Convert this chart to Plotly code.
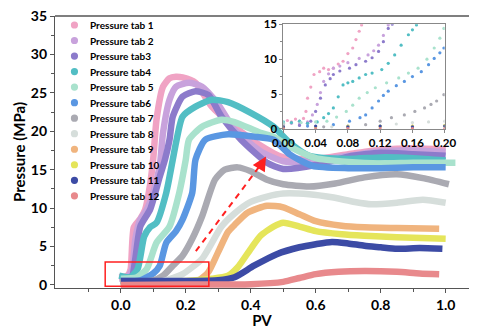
import plotly.graph_objects as go

names = ["Pressure tab 1", "Pressure tab 2", "Pressure tab3", "Pressure tab4", "Pressure tab 5",
         "Pressure tab6", "Pressure tab 7", "Pressure tab 8", "Pressure tab 9", "Pressure tab 10",
         "Pressure tab 11", "Pressure tab 12"]
colors = ["#F0A3C4", "#C8A2DC", "#8C7BCB", "#52BEC4", "#A9E2CD", "#5A97E2",
          "#AAAAB2", "#D6DEDB", "#F0B47E", "#E5E55A", "#3C4BA5", "#E8898C"]

# ---- main curves (PV, MPa) ----
x1 = [-0.005, 0.02, 0.03, 0.04, 0.06, 0.075, 0.09, 0.10, 0.11, 0.13, 0.15, 0.17, 0.19, 0.23, 0.28, 0.35, 0.42, 0.50, 0.60, 0.70, 0.80, 0.90, 1.00]
y1 = [1.0, 1.2, 2.0, 7.5, 8.6, 9.8, 13.0, 16.5, 21.5, 25.8, 26.9, 27.1, 27.0, 26.3, 23.2, 20.6, 18.4, 16.6, 16.4, 17.0, 17.6, 17.8, 17.6]
x2 = [-0.005, 0.02, 0.035, 0.045, 0.06, 0.08, 0.10, 0.12, 0.13, 0.15, 0.17, 0.21, 0.25, 0.30, 0.35, 0.43, 0.50, 0.60, 0.70, 0.80, 0.90, 1.00]
y2 = [0.8, 1.0, 2.0, 6.0, 8.5, 9.8, 12.0, 15.5, 19.8, 24.1, 25.8, 26.3, 25.8, 23.5, 20.2, 17.4, 16.1, 16.2, 16.8, 17.4, 17.5, 17.3]
x3 = [0.0, 0.02, 0.035, 0.045, 0.06, 0.09, 0.12, 0.136, 0.15, 0.16, 0.19, 0.23, 0.27, 0.31, 0.37, 0.45, 0.50, 0.60, 0.70, 0.80, 0.90, 1.00]
y3 = [0.8, 0.9, 1.2, 3.5, 7.6, 9.8, 14.1, 16.3, 18.9, 21.9, 24.5, 25.2, 24.7, 21.9, 18.9, 15.9, 15.1, 15.6, 16.7, 17.2, 17.0, 16.8]
x4 = [-0.005, 0.03, 0.052, 0.072, 0.09, 0.11, 0.14, 0.16, 0.17, 0.19, 0.23, 0.28, 0.33, 0.40, 0.47, 0.52, 0.58, 0.70, 0.80, 0.90, 1.00]
y4 = [1.2, 1.0, 2.1, 6.3, 7.5, 8.1, 12.0, 16.3, 18.5, 21.9, 23.2, 24.1, 23.8, 22.4, 20.6, 18.5, 16.8, 16.4, 16.6, 16.5, 16.2]
x5 = [0.0, 0.05, 0.08, 0.11, 0.15, 0.18, 0.20, 0.21, 0.25, 0.31, 0.35, 0.43, 0.47, 0.52, 0.60, 0.70, 0.80, 0.90, 1.03]
y5 = [0.8, 1.0, 2.1, 5.5, 7.6, 12.0, 16.3, 18.9, 20.6, 21.5, 21.2, 19.8, 19.3, 18.0, 16.5, 16.0, 15.8, 15.9, 15.9]
x6 = [0.0, 0.06, 0.10, 0.12, 0.14, 0.17, 0.19, 0.22, 0.23, 0.26, 0.33, 0.41, 0.47, 0.52, 0.59, 0.70, 0.80, 0.90, 1.00]
y6 = [0.5, 0.6, 1.5, 2.5, 5.5, 7.0, 8.5, 12.0, 16.3, 18.9, 19.6, 19.3, 18.9, 17.0, 15.5, 15.2, 15.2, 15.3, 15.3]
x7 = [0.0, 0.10, 0.13, 0.16, 0.19, 0.22, 0.25, 0.29, 0.32, 0.36, 0.40, 0.45, 0.50, 0.58, 0.66, 0.75, 0.85, 0.93, 1.01]
y7 = [0.4, 0.6, 1.2, 2.5, 3.8, 6.0, 8.9, 13.7, 15.0, 15.3, 14.8, 13.7, 13.1, 12.8, 13.2, 14.0, 14.4, 13.9, 13.1]
x8 = [0.0, 0.12, 0.16, 0.19, 0.25, 0.31, 0.35, 0.40, 0.45, 0.50, 0.58, 0.65, 0.72, 0.77, 0.85, 0.93, 1.00]
y8 = [0.3, 0.4, 0.9, 1.4, 3.4, 7.6, 9.3, 10.8, 11.5, 11.9, 11.8, 11.4, 10.8, 10.5, 10.7, 11.1, 10.7]
x9 = [0.0, 0.15, 0.24, 0.27, 0.30, 0.33, 0.35, 0.39, 0.45, 0.50, 0.55, 0.60, 0.68, 0.75, 0.85, 0.98]
y9 = [0.3, 0.4, 0.6, 1.7, 4.3, 6.9, 7.8, 9.4, 10.3, 10.1, 9.2, 8.3, 7.7, 7.5, 7.4, 7.3]
x10 = [0.0, 0.20, 0.28, 0.33, 0.36, 0.40, 0.43, 0.47, 0.50, 0.55, 0.60, 0.68, 0.75, 0.85, 1.00]
y10 = [0.4, 0.5, 0.8, 1.2, 2.3, 4.7, 6.4, 7.6, 8.1, 7.6, 7.0, 6.6, 6.4, 6.2, 6.0]
x11 = [0.0, 0.20, 0.30, 0.35, 0.41, 0.48, 0.55, 0.60, 0.65, 0.70, 0.75, 0.80, 0.85, 0.92, 0.99]
y11 = [0.5, 0.5, 0.6, 1.0, 2.5, 4.0, 4.9, 5.3, 5.6, 5.4, 5.1, 4.9, 4.7, 4.8, 4.7]
x12 = [0.0, 0.20, 0.40, 0.50, 0.55, 0.60, 0.67, 0.75, 0.85, 0.92, 0.98]
y12 = [0.0, 0.05, 0.1, 0.4, 0.9, 1.4, 1.7, 1.8, 1.7, 1.5, 1.4]

# ---- inset points (PV 0-0.2) ----
ix1 = [0, 0.005, 0.01, 0.015, 0.02, 0.025, 0.028, 0.03, 0.034, 0.038, 0.045, 0.05, 0.056, 0.062, 0.068, 0.074, 0.08, 0.086, 0.09, 0.094, 0.097]
iy1 = [0.8, 1.2, 1.0, 1.4, 1.1, 1.5, 2.5, 4.4, 6.0, 7.8, 8.2, 8.7, 8.5, 8.7, 9.3, 9.7, 10.8, 11.6, 12.8, 14.0, 14.9]
ix2 = [0.0, 0.01, 0.02, 0.03, 0.036, 0.042, 0.046, 0.05, 0.056, 0.062, 0.07, 0.08, 0.094, 0.105, 0.112, 0.118, 0.124, 0.13]
iy2 = [0.6, 0.8, 0.7, 1.0, 2.0, 3.5, 5.2, 6.8, 7.9, 8.7, 9.0, 9.5, 10.1, 10.6, 11.2, 12.0, 13.4, 14.9]
ix3 = [0.02, 0.03, 0.034, 0.04, 0.046, 0.052, 0.058, 0.062, 0.07, 0.082, 0.09, 0.102, 0.11, 0.118, 0.124, 0.13, 0.135]
iy3 = [0.5, 0.8, 1.1, 2.5, 4.4, 6.3, 7.2, 7.8, 8.3, 8.7, 9.2, 9.7, 10.2, 11.1, 12.5, 14.4, 15.0]
ix4 = [0.0, 0.01, 0.02, 0.03, 0.042, 0.05, 0.056, 0.062, 0.068, 0.074, 0.08, 0.086, 0.094, 0.102, 0.11, 0.122, 0.13, 0.138, 0.146, 0.155, 0.16, 0.165]
iy4 = [1.0, 0.9, 1.1, 0.8, 1.0, 1.6, 2.2, 3.0, 4.6, 6.3, 6.6, 6.8, 7.3, 7.8, 8.0, 8.5, 9.4, 10.6, 12.0, 13.5, 14.2, 14.9]
ix5 = [0.0, 0.022, 0.04, 0.054, 0.066, 0.078, 0.086, 0.094, 0.104, 0.114, 0.128, 0.143, 0.155, 0.167, 0.178, 0.187, 0.194, 0.199]
iy5 = [0.8, 0.9, 1.0, 1.1, 1.7, 2.5, 3.4, 4.4, 5.2, 5.9, 6.6, 7.3, 8.0, 8.7, 10.0, 11.6, 13.0, 14.4]
ix6 = [0.0, 0.03, 0.062, 0.082, 0.095, 0.102, 0.11, 0.118, 0.124, 0.13, 0.14, 0.15, 0.16, 0.171, 0.18, 0.187, 0.194, 0.199]
iy6 = [0.3, 0.4, 0.6, 1.1, 1.6, 2.0, 3.0, 4.0, 4.8, 5.4, 6.2, 6.8, 7.5, 8.2, 9.2, 10.1, 10.9, 11.6]
ix7 = [0.0, 0.05, 0.08, 0.102, 0.12, 0.134, 0.15, 0.163, 0.175, 0.183, 0.19, 0.199]
iy7 = [0.2, 0.3, 0.4, 0.6, 1.1, 1.6, 2.0, 2.5, 3.0, 3.5, 4.0, 4.9]
ix8 = [0.0, 0.06, 0.12, 0.14, 0.16, 0.18, 0.2]
iy8 = [0.2, 0.3, 0.4, 0.7, 0.9, 1.0, 1.1]
ix9 = [0.0, 0.04, 0.08, 0.12, 0.16, 0.2]
iy9 = [0.2, 0.3, 0.3, 0.3, 0.4, 0.4]
ix10 = [0.0, 0.04, 0.08, 0.12, 0.16, 0.2]
iy10 = [0.3, 0.3, 0.4, 0.4, 0.4, 0.5]
ix11 = [0.0, 0.04, 0.08, 0.12, 0.16, 0.2]
iy11 = [0.3, 0.4, 0.3, 0.4, 0.3, 0.4]
ix12 = [0.0, 0.04, 0.08, 0.12, 0.16, 0.2]
iy12 = [0.0, 0.0, 0.05, 0.0, 0.05, 0.0]

main_x = [x1, x2, x3, x4, x5, x6, x7, x8, x9, x10, x11, x12]
main_y = [y1, y2, y3, y4, y5, y6, y7, y8, y9, y10, y11, y12]
ins_x = [ix1, ix2, ix3, ix4, ix5, ix6, ix7, ix8, ix9, ix10, ix11, ix12]
ins_y = [iy1, iy2, iy3, iy4, iy5, iy6, iy7, iy8, iy9, iy10, iy11, iy12]

x_ticks = [0.0, 0.2, 0.4, 0.6, 0.8, 1.0]
x_minor = [-0.1, 0.1, 0.3, 0.5, 0.7, 0.9]
y_ticks = [0, 5, 10, 15, 20, 25, 30, 35]
y_minor = [2.5, 7.5, 12.5, 17.5, 22.5, 27.5, 32.5]

FONT = "Lato"
AX = "#555555"

fig = go.Figure()
for i in range(12):
    fig.add_trace(go.Scatter(x=main_x[i], y=main_y[i], mode="lines", name=names[i],
                             line=dict(color=colors[i], width=6.5, shape="spline", smoothing=0.6),
                             showlegend=False, xaxis="x", yaxis="y", hoverinfo="skip"))
for i in range(12):
    fig.add_trace(go.Scatter(x=ins_x[i], y=ins_y[i], mode="markers",
                             marker=dict(color=colors[i], size=3.2), showlegend=False,
                             xaxis="x2", yaxis="y2", hoverinfo="skip"))

fig.update_layout(
    width=481, height=329, margin=dict(l=55, r=0, t=16, b=40),
    plot_bgcolor="white", paper_bgcolor="white",
    font=dict(family=FONT, color="black"),
    showlegend=False,
    xaxis=dict(domain=[0, 1], range=[-0.2025, 1.0718], showline=True, linecolor=AX, linewidth=1.3,
               showgrid=False, zeroline=False, tickmode="array", tickvals=x_ticks,
               ticktext=["%.1f" % v for v in x_ticks], ticks="outside", ticklen=4, tickcolor=AX,
               minor=dict(tickmode="array", tickvals=x_minor, ticks="outside", ticklen=3, tickcolor=AX),
               tickfont=dict(size=14, family=FONT, weight="bold"),
               title=dict(text="PV", font=dict(size=15, family=FONT, weight="bold"), standoff=6)),
    yaxis=dict(domain=[0, 1], range=[-0.4, 35], showline=True, linecolor=AX, linewidth=1.3,
               showgrid=False, zeroline=False, tickmode="array", tickvals=y_ticks,
               ticks="outside", ticklen=4, tickcolor=AX,
               minor=dict(tickmode="array", tickvals=y_minor, ticks="outside", ticklen=3, tickcolor=AX),
               tickfont=dict(size=14, family=FONT, weight="bold"),
               title=dict(text="Pressure (MPa)", font=dict(size=15, family=FONT, weight="bold"), standoff=1)),
    xaxis2=dict(domain=[0.5516, 0.9413], anchor="y2", range=[0, 0.2], showline=True, mirror=True,
                linecolor="#888888", linewidth=1, showgrid=False, zeroline=False,
                tickmode="array", tickvals=[0, 0.04, 0.08, 0.12, 0.16, 0.2],
                ticktext=["0.00", "0.04", "0.08", "0.12", "0.16", "0.20"],
                ticks="outside", ticklen=3, tickcolor="#888888",
                tickfont=dict(size=11.5, family=FONT, weight="bold")),
    yaxis2=dict(domain=[0.585, 0.9696], anchor="x2", range=[0, 15], showline=True, mirror=True,
                linecolor="#888888", linewidth=1, showgrid=False, zeroline=False,
                tickmode="array", tickvals=[0, 5, 10, 15], ticks="outside", ticklen=3,
                tickcolor="#888888",
                minor=dict(tickmode="array", tickvals=[2.5, 7.5, 12.5], ticks="outside", ticklen=2, tickcolor="#888888"),
                tickfont=dict(size=11.5, family=FONT, weight="bold")),
)

# legend drawn as real text with circle swatches (compact spacing)
leg_x_marker = 0.047
leg_x_text = 0.080
leg_y0 = 0.967
leg_dy = 0.0571
for i in range(12):
    yy = leg_y0 - i * leg_dy
    fig.add_shape(type="circle", xref="paper", yref="paper", xsizemode="pixel", ysizemode="pixel",
                  xanchor=leg_x_marker, yanchor=yy, x0=-3.6, x1=3.6, y0=-3.6, y1=3.6,
                  fillcolor=colors[i], line=dict(width=0))
    fig.add_annotation(x=leg_x_text, y=yy, xref="paper", yref="paper", text=names[i],
                       showarrow=False, xanchor="left", yanchor="middle",
                       font=dict(size=10, family=FONT, weight="bold", color="black"))

# top border of the main frame
fig.add_shape(type="line", xref="paper", yref="paper", x0=0, x1=1, y0=1, y1=1,
              line=dict(color=AX, width=1.3))
# red box around the zoomed region
fig.add_shape(type="rect", xref="x", yref="y", x0=-0.048, x1=0.271, y0=-0.17, y1=3.0,
              line=dict(color="#FF2020", width=1.5))
# dashed red arrow
fig.add_shape(type="line", xref="x", yref="y", x0=0.231, y0=4.4, x1=0.437, y1=16.0,
              line=dict(color="#FF2020", width=2, dash="6px,5px"))
fig.add_annotation(x=0.447, y=16.7, xref="x", yref="y", ax=0.43, ay=15.5, axref="x", ayref="y",
                   showarrow=True, arrowhead=2, arrowsize=1.4, arrowwidth=2, arrowcolor="#FF2020", text="")

fig.write_html("out.html")
